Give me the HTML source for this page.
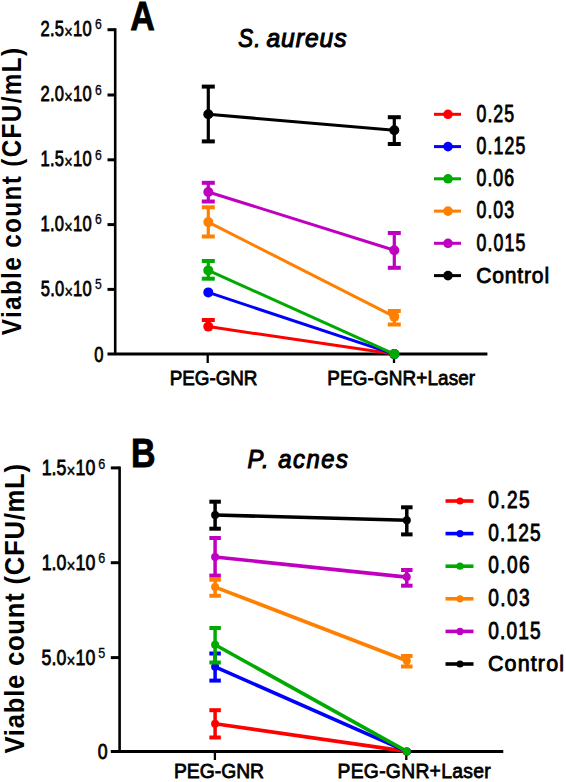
<!DOCTYPE html><html><head><meta charset="utf-8"><style>html,body{margin:0;padding:0;background:#fff;}svg{display:block;}text{font-family:"Liberation Sans",sans-serif;fill:#000;}</style></head><body>
<svg width="566" height="782" viewBox="0 0 566 782">
<rect width="566" height="782" fill="#fff"/>
<line x1="115.2" y1="28.2" x2="115.2" y2="354.1" stroke="#000" stroke-width="2.6"/>
<line x1="107.5" y1="354.1" x2="487.4" y2="354.1" stroke="#000" stroke-width="3"/>
<line x1="107.5" y1="29.7" x2="115.2" y2="29.7" stroke="#000" stroke-width="3"/>
<line x1="107.5" y1="95.0" x2="115.2" y2="95.0" stroke="#000" stroke-width="3"/>
<line x1="107.5" y1="159.8" x2="115.2" y2="159.8" stroke="#000" stroke-width="3"/>
<line x1="107.5" y1="224.6" x2="115.2" y2="224.6" stroke="#000" stroke-width="3"/>
<line x1="107.5" y1="289.4" x2="115.2" y2="289.4" stroke="#000" stroke-width="3"/>
<line x1="207.7" y1="354.1" x2="207.7" y2="363" stroke="#000" stroke-width="2.3"/>
<line x1="394" y1="354.1" x2="394" y2="363" stroke="#000" stroke-width="2.3"/>
<text transform="translate(40.57,35.90) scale(0.76,1)" font-size="21.8" font-weight="normal" font-style="normal" textLength="67.21" lengthAdjust="spacing" stroke="#000" stroke-width="0.8">2.5<tspan font-size="19" dy="2.2" stroke-width="0.5">×</tspan><tspan dy="-2.2">10</tspan></text>
<text transform="translate(94.98,29.40) scale(0.85,1)" font-size="14.3" font-weight="normal" font-style="normal" stroke="#000" stroke-width="0.3">6</text>
<text transform="translate(40.57,101.20) scale(0.76,1)" font-size="21.8" font-weight="normal" font-style="normal" textLength="67.21" lengthAdjust="spacing" stroke="#000" stroke-width="0.8">2.0<tspan font-size="19" dy="2.2" stroke-width="0.5">×</tspan><tspan dy="-2.2">10</tspan></text>
<text transform="translate(94.98,94.70) scale(0.85,1)" font-size="14.3" font-weight="normal" font-style="normal" stroke="#000" stroke-width="0.3">6</text>
<text transform="translate(40.54,166.00) scale(0.76,1)" font-size="21.8" font-weight="normal" font-style="normal" textLength="67.25" lengthAdjust="spacing" stroke="#000" stroke-width="0.8">1.5<tspan font-size="19" dy="2.2" stroke-width="0.5">×</tspan><tspan dy="-2.2">10</tspan></text>
<text transform="translate(94.98,159.50) scale(0.85,1)" font-size="14.3" font-weight="normal" font-style="normal" stroke="#000" stroke-width="0.3">6</text>
<text transform="translate(40.54,230.80) scale(0.76,1)" font-size="21.8" font-weight="normal" font-style="normal" textLength="67.25" lengthAdjust="spacing" stroke="#000" stroke-width="0.8">1.0<tspan font-size="19" dy="2.2" stroke-width="0.5">×</tspan><tspan dy="-2.2">10</tspan></text>
<text transform="translate(94.98,224.30) scale(0.85,1)" font-size="14.3" font-weight="normal" font-style="normal" stroke="#000" stroke-width="0.3">6</text>
<text transform="translate(40.74,295.60) scale(0.76,1)" font-size="21.8" font-weight="normal" font-style="normal" textLength="66.99" lengthAdjust="spacing" stroke="#000" stroke-width="0.8">5.0<tspan font-size="19" dy="2.2" stroke-width="0.5">×</tspan><tspan dy="-2.2">10</tspan></text>
<text transform="translate(95.11,289.10) scale(0.85,1)" font-size="14.3" font-weight="normal" font-style="normal" stroke="#000" stroke-width="0.3">5</text>
<text transform="translate(94.15,362.10) scale(0.76,1)" font-size="21.8" font-weight="normal" font-style="normal" stroke="#000" stroke-width="0.8">0</text>
<text transform="translate(169.85,385.20) scale(0.9,1)" font-size="21" font-weight="normal" font-style="normal" textLength="97.36" lengthAdjust="spacing" stroke="#000" stroke-width="0.8">PEG-GNR</text>
<text transform="translate(327.25,384.80) scale(0.9,1)" font-size="21" font-weight="normal" font-style="normal" textLength="164.29" lengthAdjust="spacing" stroke="#000" stroke-width="0.8">PEG-GNR+Laser</text>
<text transform="translate(130.35,29.60) scale(0.84,1)" font-size="40.5" font-weight="bold" font-style="normal" stroke="#000" stroke-width="0.8">A</text>
<text transform="translate(238.37,47.40) scale(0.84,1)" font-size="26.5" font-weight="normal" font-style="italic" textLength="26.38" lengthAdjust="spacing" stroke="#000" stroke-width="1.1">S.</text>
<text transform="translate(266.45,47.40) scale(0.93,1)" font-size="26.5" font-weight="normal" font-style="italic" textLength="86.08" lengthAdjust="spacing" stroke="#000" stroke-width="1.1">aureus</text>
<text transform="translate(21.00,335.17) rotate(-90) scale(0.9,1)" font-size="27" font-weight="bold" font-style="normal" textLength="319.08" lengthAdjust="spacing">Viable count (CFU/mL)</text>
<line x1="208.3" y1="326.6" x2="394.3" y2="354.1" stroke="#ff0000" stroke-width="3"/>
<line x1="208.3" y1="320" x2="208.3" y2="326.6" stroke="#ff0000" stroke-width="3.2"/>
<line x1="201.8" y1="320" x2="214.8" y2="320" stroke="#ff0000" stroke-width="4"/>
<circle cx="208.3" cy="326.6" r="5" fill="#ff0000"/>
<circle cx="394.3" cy="354.1" r="5" fill="#ff0000"/>
<line x1="208.3" y1="292.4" x2="394.3" y2="354.1" stroke="#0000ff" stroke-width="3"/>
<circle cx="208.3" cy="292.4" r="5" fill="#0000ff"/>
<circle cx="394.3" cy="354.1" r="5" fill="#0000ff"/>
<line x1="208.3" y1="270.4" x2="394.3" y2="354.1" stroke="#00aa00" stroke-width="3"/>
<line x1="208.3" y1="261" x2="208.3" y2="278.7" stroke="#00aa00" stroke-width="3.2"/>
<line x1="201.8" y1="261" x2="214.8" y2="261" stroke="#00aa00" stroke-width="4"/>
<line x1="201.8" y1="278.7" x2="214.8" y2="278.7" stroke="#00aa00" stroke-width="4"/>
<circle cx="208.3" cy="270.4" r="5" fill="#00aa00"/>
<circle cx="394.3" cy="354.1" r="5" fill="#00aa00"/>
<line x1="208.3" y1="222.1" x2="394.3" y2="316.6" stroke="#ff8000" stroke-width="3"/>
<line x1="208.3" y1="207.3" x2="208.3" y2="236.5" stroke="#ff8000" stroke-width="3.2"/>
<line x1="201.8" y1="207.3" x2="214.8" y2="207.3" stroke="#ff8000" stroke-width="4"/>
<line x1="201.8" y1="236.5" x2="214.8" y2="236.5" stroke="#ff8000" stroke-width="4"/>
<circle cx="208.3" cy="222.1" r="5" fill="#ff8000"/>
<line x1="394.3" y1="311" x2="394.3" y2="324.5" stroke="#ff8000" stroke-width="3.2"/>
<line x1="387.8" y1="311" x2="400.8" y2="311" stroke="#ff8000" stroke-width="4"/>
<line x1="387.8" y1="324.5" x2="400.8" y2="324.5" stroke="#ff8000" stroke-width="4"/>
<circle cx="394.3" cy="316.6" r="5" fill="#ff8000"/>
<line x1="208.3" y1="192" x2="394.3" y2="250.2" stroke="#c000c0" stroke-width="3"/>
<line x1="208.3" y1="182.8" x2="208.3" y2="201.5" stroke="#c000c0" stroke-width="3.2"/>
<line x1="201.8" y1="182.8" x2="214.8" y2="182.8" stroke="#c000c0" stroke-width="4"/>
<line x1="201.8" y1="201.5" x2="214.8" y2="201.5" stroke="#c000c0" stroke-width="4"/>
<circle cx="208.3" cy="192" r="5" fill="#c000c0"/>
<line x1="394.3" y1="233" x2="394.3" y2="267.8" stroke="#c000c0" stroke-width="3.2"/>
<line x1="387.8" y1="233" x2="400.8" y2="233" stroke="#c000c0" stroke-width="4"/>
<line x1="387.8" y1="267.8" x2="400.8" y2="267.8" stroke="#c000c0" stroke-width="4"/>
<circle cx="394.3" cy="250.2" r="5" fill="#c000c0"/>
<line x1="208.3" y1="114.3" x2="394.3" y2="130.2" stroke="#000000" stroke-width="3"/>
<line x1="208.3" y1="86.6" x2="208.3" y2="141.4" stroke="#000000" stroke-width="3.2"/>
<line x1="201.8" y1="86.6" x2="214.8" y2="86.6" stroke="#000000" stroke-width="4"/>
<line x1="201.8" y1="141.4" x2="214.8" y2="141.4" stroke="#000000" stroke-width="4"/>
<circle cx="208.3" cy="114.3" r="5" fill="#000000"/>
<line x1="394.3" y1="117.2" x2="394.3" y2="144" stroke="#000000" stroke-width="3.2"/>
<line x1="387.8" y1="117.2" x2="400.8" y2="117.2" stroke="#000000" stroke-width="4"/>
<line x1="387.8" y1="144" x2="400.8" y2="144" stroke="#000000" stroke-width="4"/>
<circle cx="394.3" cy="130.2" r="5" fill="#000000"/>
<line x1="434" y1="114.3" x2="461" y2="114.3" stroke="#ff0000" stroke-width="3"/>
<circle cx="448" cy="114.3" r="4.8" fill="#ff0000"/>
<text transform="translate(476.51,121.50) scale(0.77,1)" font-size="23.0" font-weight="normal" font-style="normal" textLength="48.75" lengthAdjust="spacing" stroke="#000" stroke-width="0.85">0.25</text>
<line x1="434" y1="146.6" x2="461" y2="146.6" stroke="#0000ff" stroke-width="3"/>
<circle cx="448" cy="146.6" r="4.8" fill="#0000ff"/>
<text transform="translate(476.51,153.75) scale(0.77,1)" font-size="23.0" font-weight="normal" font-style="normal" textLength="63.29" lengthAdjust="spacing" stroke="#000" stroke-width="0.85">0.125</text>
<line x1="434" y1="178.8" x2="461" y2="178.8" stroke="#00aa00" stroke-width="3"/>
<circle cx="448" cy="178.8" r="4.8" fill="#00aa00"/>
<text transform="translate(476.51,186.00) scale(0.77,1)" font-size="23.0" font-weight="normal" font-style="normal" textLength="48.79" lengthAdjust="spacing" stroke="#000" stroke-width="0.85">0.06</text>
<line x1="434" y1="211.1" x2="461" y2="211.1" stroke="#ff8000" stroke-width="3"/>
<circle cx="448" cy="211.1" r="4.8" fill="#ff8000"/>
<text transform="translate(476.51,218.25) scale(0.77,1)" font-size="23.0" font-weight="normal" font-style="normal" textLength="48.79" lengthAdjust="spacing" stroke="#000" stroke-width="0.85">0.03</text>
<line x1="434" y1="243.3" x2="461" y2="243.3" stroke="#c000c0" stroke-width="3"/>
<circle cx="448" cy="243.3" r="4.8" fill="#c000c0"/>
<text transform="translate(476.51,250.50) scale(0.77,1)" font-size="23.0" font-weight="normal" font-style="normal" textLength="63.55" lengthAdjust="spacing" stroke="#000" stroke-width="0.85">0.015</text>
<line x1="434" y1="275.6" x2="461" y2="275.6" stroke="#000000" stroke-width="3"/>
<circle cx="448" cy="275.6" r="4.8" fill="#000000"/>
<text transform="translate(476.13,282.75) scale(0.95,1)" font-size="22.2" font-weight="normal" font-style="normal" textLength="76.82" lengthAdjust="spacing" stroke="#000" stroke-width="0.85">Control</text>
<line x1="119.6" y1="466.5" x2="119.6" y2="751.4" stroke="#000" stroke-width="2.6"/>
<line x1="110.8" y1="751.4" x2="503.3" y2="751.4" stroke="#000" stroke-width="3"/>
<line x1="110.8" y1="467.9" x2="119.6" y2="467.9" stroke="#000" stroke-width="3"/>
<line x1="110.8" y1="562.7" x2="119.6" y2="562.7" stroke="#000" stroke-width="3"/>
<line x1="110.8" y1="657.6" x2="119.6" y2="657.6" stroke="#000" stroke-width="3"/>
<line x1="214.9" y1="751.4" x2="214.9" y2="760" stroke="#000" stroke-width="2.3"/>
<line x1="406.3" y1="751.4" x2="406.3" y2="760" stroke="#000" stroke-width="2.3"/>
<text transform="translate(41.65,475.10) scale(0.8,1)" font-size="22.2" font-weight="normal" font-style="normal" textLength="67.06" lengthAdjust="spacing" stroke="#000" stroke-width="0.8">1.5<tspan font-size="19" dy="2.2" stroke-width="0.5">×</tspan><tspan dy="-2.2">10</tspan></text>
<text transform="translate(98.16,468.50) scale(0.88,1)" font-size="14.3" font-weight="normal" font-style="normal" stroke="#000" stroke-width="0.3">6</text>
<text transform="translate(41.65,569.90) scale(0.8,1)" font-size="22.2" font-weight="normal" font-style="normal" textLength="67.06" lengthAdjust="spacing" stroke="#000" stroke-width="0.8">1.0<tspan font-size="19" dy="2.2" stroke-width="0.5">×</tspan><tspan dy="-2.2">10</tspan></text>
<text transform="translate(98.16,563.30) scale(0.88,1)" font-size="14.3" font-weight="normal" font-style="normal" stroke="#000" stroke-width="0.3">6</text>
<text transform="translate(41.49,664.80) scale(0.8,1)" font-size="22.2" font-weight="normal" font-style="normal" textLength="67.26" lengthAdjust="spacing" stroke="#000" stroke-width="0.8">5.0<tspan font-size="19" dy="2.2" stroke-width="0.5">×</tspan><tspan dy="-2.2">10</tspan></text>
<text transform="translate(98.30,658.20) scale(0.88,1)" font-size="14.3" font-weight="normal" font-style="normal" stroke="#000" stroke-width="0.3">5</text>
<text transform="translate(97.71,758.90) scale(0.8,1)" font-size="22.2" font-weight="normal" font-style="normal" stroke="#000" stroke-width="0.8">0</text>
<text transform="translate(174.02,778.00) scale(0.92,1)" font-size="21" font-weight="normal" font-style="normal" textLength="97.81" lengthAdjust="spacing" stroke="#000" stroke-width="0.8">PEG-GNR</text>
<text transform="translate(337.52,778.40) scale(0.92,1)" font-size="21" font-weight="normal" font-style="normal" textLength="166.42" lengthAdjust="spacing" stroke="#000" stroke-width="0.8">PEG-GNR+Laser</text>
<text transform="translate(131.02,467.00) scale(0.84,1)" font-size="40.5" font-weight="bold" font-style="normal" stroke="#000" stroke-width="0.8">B</text>
<text transform="translate(247.57,467.80) scale(0.9,1)" font-size="26.5" font-weight="normal" font-style="italic" textLength="111.47" lengthAdjust="spacing" stroke="#000" stroke-width="1.1">P. acnes</text>
<text transform="translate(24.40,753.58) rotate(-90) scale(0.9,1)" font-size="28.5" font-weight="bold" font-style="normal" textLength="321.84" lengthAdjust="spacing">Viable count (CFU/mL)</text>
<line x1="215.1" y1="723.7" x2="406.8" y2="751.4" stroke="#ff0000" stroke-width="3.6"/>
<line x1="215.1" y1="710.2" x2="215.1" y2="737.5" stroke="#ff0000" stroke-width="3.5"/>
<line x1="209.35" y1="710.2" x2="220.85" y2="710.2" stroke="#ff0000" stroke-width="4"/>
<line x1="209.35" y1="737.5" x2="220.85" y2="737.5" stroke="#ff0000" stroke-width="4"/>
<circle cx="215.1" cy="723.7" r="4.0" fill="#ff0000"/>
<circle cx="406.8" cy="751.4" r="4.0" fill="#ff0000"/>
<line x1="215.1" y1="666.8" x2="406.8" y2="751.4" stroke="#0000ff" stroke-width="3.6"/>
<line x1="215.1" y1="653.5" x2="215.1" y2="680.6" stroke="#0000ff" stroke-width="3.5"/>
<line x1="209.35" y1="653.5" x2="220.85" y2="653.5" stroke="#0000ff" stroke-width="4"/>
<line x1="209.35" y1="680.6" x2="220.85" y2="680.6" stroke="#0000ff" stroke-width="4"/>
<circle cx="215.1" cy="666.8" r="4.0" fill="#0000ff"/>
<circle cx="406.8" cy="751.4" r="4.0" fill="#0000ff"/>
<line x1="215.1" y1="644.8" x2="406.8" y2="751.4" stroke="#00aa00" stroke-width="3.6"/>
<line x1="215.1" y1="628" x2="215.1" y2="662.5" stroke="#00aa00" stroke-width="3.5"/>
<line x1="209.35" y1="628" x2="220.85" y2="628" stroke="#00aa00" stroke-width="4"/>
<line x1="209.35" y1="662.5" x2="220.85" y2="662.5" stroke="#00aa00" stroke-width="4"/>
<circle cx="215.1" cy="644.8" r="4.0" fill="#00aa00"/>
<circle cx="406.8" cy="751.4" r="4.0" fill="#00aa00"/>
<line x1="215.1" y1="587.1" x2="406.8" y2="660.7" stroke="#ff8000" stroke-width="3.6"/>
<line x1="215.1" y1="579.7" x2="215.1" y2="595.8" stroke="#ff8000" stroke-width="3.5"/>
<line x1="209.35" y1="579.7" x2="220.85" y2="579.7" stroke="#ff8000" stroke-width="4"/>
<line x1="209.35" y1="595.8" x2="220.85" y2="595.8" stroke="#ff8000" stroke-width="4"/>
<circle cx="215.1" cy="587.1" r="4.0" fill="#ff8000"/>
<line x1="406.8" y1="656" x2="406.8" y2="666.5" stroke="#ff8000" stroke-width="3.5"/>
<line x1="401.05" y1="656" x2="412.55" y2="656" stroke="#ff8000" stroke-width="4"/>
<line x1="401.05" y1="666.5" x2="412.55" y2="666.5" stroke="#ff8000" stroke-width="4"/>
<circle cx="406.8" cy="660.7" r="4.0" fill="#ff8000"/>
<line x1="215.1" y1="557" x2="406.8" y2="577.1" stroke="#c000c0" stroke-width="3.6"/>
<line x1="215.1" y1="538" x2="215.1" y2="575.6" stroke="#c000c0" stroke-width="3.5"/>
<line x1="209.35" y1="538" x2="220.85" y2="538" stroke="#c000c0" stroke-width="4"/>
<line x1="209.35" y1="575.6" x2="220.85" y2="575.6" stroke="#c000c0" stroke-width="4"/>
<circle cx="215.1" cy="557" r="4.0" fill="#c000c0"/>
<line x1="406.8" y1="570" x2="406.8" y2="585.7" stroke="#c000c0" stroke-width="3.5"/>
<line x1="401.05" y1="570" x2="412.55" y2="570" stroke="#c000c0" stroke-width="4"/>
<line x1="401.05" y1="585.7" x2="412.55" y2="585.7" stroke="#c000c0" stroke-width="4"/>
<circle cx="406.8" cy="577.1" r="4.0" fill="#c000c0"/>
<line x1="215.1" y1="515" x2="406.8" y2="520.2" stroke="#000000" stroke-width="3.6"/>
<line x1="215.1" y1="501.7" x2="215.1" y2="528.7" stroke="#000000" stroke-width="3.5"/>
<line x1="209.35" y1="501.7" x2="220.85" y2="501.7" stroke="#000000" stroke-width="4"/>
<line x1="209.35" y1="528.7" x2="220.85" y2="528.7" stroke="#000000" stroke-width="4"/>
<circle cx="215.1" cy="515" r="4.0" fill="#000000"/>
<line x1="406.8" y1="507.3" x2="406.8" y2="534.4" stroke="#000000" stroke-width="3.5"/>
<line x1="401.05" y1="507.3" x2="412.55" y2="507.3" stroke="#000000" stroke-width="4"/>
<line x1="401.05" y1="534.4" x2="412.55" y2="534.4" stroke="#000000" stroke-width="4"/>
<circle cx="406.8" cy="520.2" r="4.0" fill="#000000"/>
<line x1="445.5" y1="501.0" x2="473.5" y2="501.0" stroke="#ff0000" stroke-width="3.6"/>
<circle cx="460" cy="501.0" r="3.6" fill="#ff0000"/>
<text transform="translate(488.25,508.20) scale(0.83,1)" font-size="23.0" font-weight="normal" font-style="normal" textLength="49.82" lengthAdjust="spacing" stroke="#000" stroke-width="0.85">0.25</text>
<line x1="445.5" y1="533.6" x2="473.5" y2="533.6" stroke="#0000ff" stroke-width="3.6"/>
<circle cx="460" cy="533.6" r="3.6" fill="#0000ff"/>
<text transform="translate(488.25,540.80) scale(0.83,1)" font-size="23.0" font-weight="normal" font-style="normal" textLength="63.19" lengthAdjust="spacing" stroke="#000" stroke-width="0.85">0.125</text>
<line x1="445.5" y1="566.2" x2="473.5" y2="566.2" stroke="#00aa00" stroke-width="3.6"/>
<circle cx="460" cy="566.2" r="3.6" fill="#00aa00"/>
<text transform="translate(488.25,573.40) scale(0.83,1)" font-size="23.0" font-weight="normal" font-style="normal" textLength="49.86" lengthAdjust="spacing" stroke="#000" stroke-width="0.85">0.06</text>
<line x1="445.5" y1="598.8" x2="473.5" y2="598.8" stroke="#ff8000" stroke-width="3.6"/>
<circle cx="460" cy="598.8" r="3.6" fill="#ff8000"/>
<text transform="translate(488.25,606.00) scale(0.83,1)" font-size="23.0" font-weight="normal" font-style="normal" textLength="49.86" lengthAdjust="spacing" stroke="#000" stroke-width="0.85">0.03</text>
<line x1="445.5" y1="631.4" x2="473.5" y2="631.4" stroke="#c000c0" stroke-width="3.6"/>
<circle cx="460" cy="631.4" r="3.6" fill="#c000c0"/>
<text transform="translate(488.25,638.60) scale(0.83,1)" font-size="23.0" font-weight="normal" font-style="normal" textLength="63.07" lengthAdjust="spacing" stroke="#000" stroke-width="0.85">0.015</text>
<line x1="445.5" y1="664.0" x2="473.5" y2="664.0" stroke="#000000" stroke-width="3.6"/>
<circle cx="460" cy="664.0" r="3.6" fill="#000000"/>
<text transform="translate(487.91,671.20) scale(0.97,1)" font-size="22.2" font-weight="normal" font-style="normal" textLength="78.49" lengthAdjust="spacing" stroke="#000" stroke-width="0.85">Control</text>
</svg></body></html>
